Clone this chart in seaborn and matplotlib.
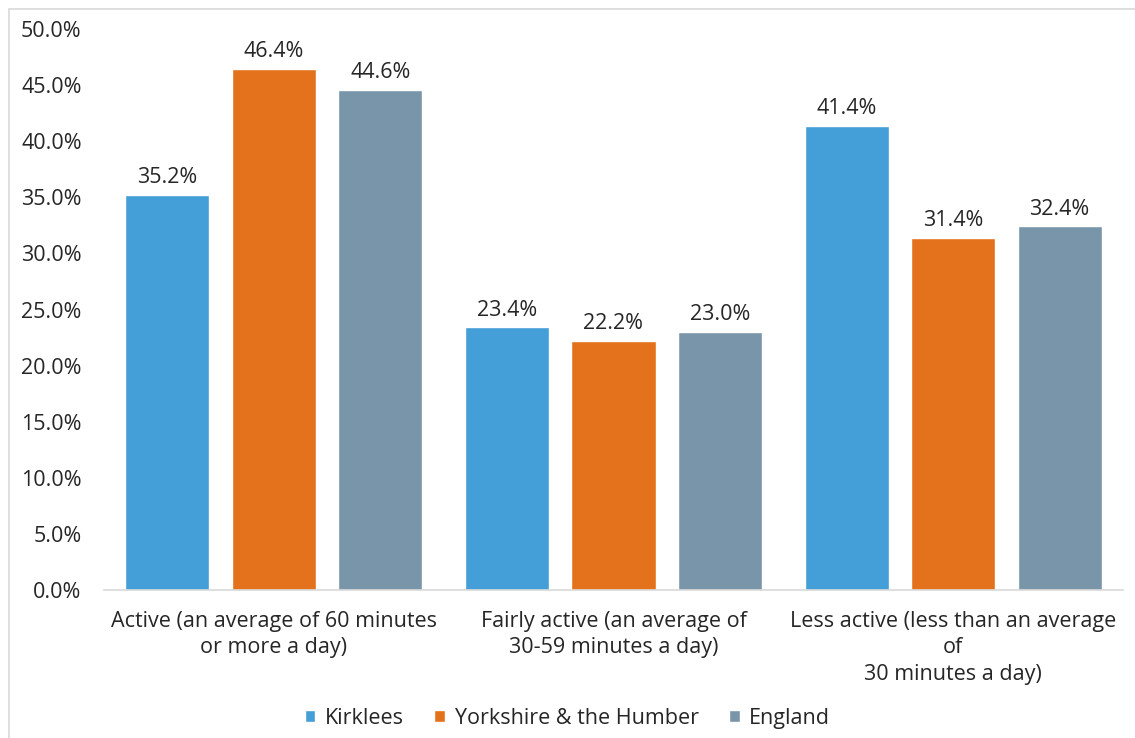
import matplotlib
matplotlib.use("Agg")
import matplotlib.pyplot as plt
from matplotlib.patches import Rectangle
from matplotlib.ticker import PercentFormatter
import seaborn as sns
import pandas as pd

categories = [
    "Active (an average of 60 minutes\nor more a day)",
    "Fairly active (an average of\n30-59 minutes a day)",
    "Less active (less than an average\nof\n30 minutes a day)",
]
areas = ["Kirklees", "Yorkshire & the Humber", "England"]
kirklees = [35.2, 23.4, 41.4]
yorkshire = [46.4, 22.2, 31.4]
england = [44.6, 23.0, 32.4]
colors = ["#449ED7", "#E4721C", "#7895AA"]

df = pd.DataFrame({
    "category": categories * 3,
    "area": [a for a in areas for _ in categories],
    "value": kirklees + yorkshire + england,
})

sns.set_theme(style="white")
plt.rcParams["font.family"] = ["Open Sans", "DejaVu Sans"]
text_color = "#262626"
fs = 15.5

fig = plt.figure(figsize=(11.35, 7.38), dpi=100)
ax = fig.add_axes([0.0916, 0.2005, 0.8978, 0.7602])

sns.barplot(data=df, x="category", y="value", hue="area", order=categories,
            hue_order=areas, palette=colors, width=0.94, gap=0.21,
            saturation=1, ax=ax, legend=True)

for cont in ax.containers:
    ax.bar_label(cont, labels=[f"{v:.1f}%" for v in cont.datavalues],
                 padding=5, fontsize=fs, color=text_color)

ax.set_ylim(0, 50)
ax.set_xlim(-0.5, 2.5)
ax.set_yticks(range(0, 51, 5))
ax.yaxis.set_major_formatter(PercentFormatter(decimals=1))
ax.set_xlabel("")
ax.set_ylabel("")
ax.tick_params(axis="both", length=0, labelsize=fs, colors=text_color)
ax.tick_params(axis="y", pad=16)
ax.tick_params(axis="x", pad=15)
for lbl in ax.get_xticklabels():
    lbl.set_linespacing(1.34)
for side in ["top", "right", "left"]:
    ax.spines[side].set_visible(False)
ax.spines["bottom"].set_color("#D9D9D9")
ax.spines["bottom"].set_linewidth(1.2)

handles, labels = ax.get_legend_handles_labels()
ax.legend_.remove()
fig.legend(handles, labels, loc="center", bbox_to_anchor=(0.5, 0.027),
           ncol=3, frameon=False, fontsize=fs, handlelength=0.5,
           handleheight=0.5, handletextpad=0.45, columnspacing=1.4,
           labelcolor=text_color)

fig.patches.append(Rectangle((9 / 1135, -0.05), 1.2, (729 / 738) + 0.05,
                             transform=fig.transFigure, fill=False,
                             edgecolor="#D9D9D9", linewidth=1.2))

fig.savefig("out.png", dpi=100)
